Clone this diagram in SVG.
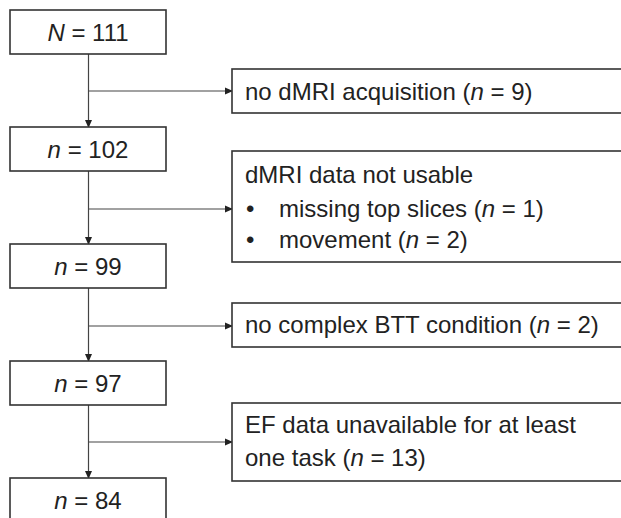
<svg xmlns="http://www.w3.org/2000/svg" width="621" height="518" viewBox="0 0 621 518">
<style>
.box{fill:#fff;stroke:#333;stroke-width:1.6}
.t{font-family:"Liberation Sans",Arial,sans-serif;font-size:24px;fill:#222}
.m{text-anchor:middle}
.c{fill:none;stroke:#444;stroke-width:1.2}
.i{font-style:italic}
</style>
<defs>
<marker id="ah" markerWidth="8" markerHeight="8" refX="7" refY="4" orient="auto" markerUnits="userSpaceOnUse">
<path d="M0,0.5 L8,4 L0,7.5 Z" fill="#222"/>
</marker>
</defs>
<rect width="621" height="518" fill="#fff"/>
<g id="connectors">
<line class="c" x1="88.5" y1="54" x2="88.5" y2="127" marker-end="url(#ah)"/>
<line class="c" x1="88.5" y1="91" x2="232" y2="91" marker-end="url(#ah)"/>
<line class="c" x1="88.5" y1="171" x2="88.5" y2="244" marker-end="url(#ah)"/>
<line class="c" x1="88.5" y1="209" x2="232" y2="209" marker-end="url(#ah)"/>
<line class="c" x1="88.5" y1="288" x2="88.5" y2="361" marker-end="url(#ah)"/>
<line class="c" x1="88.5" y1="326" x2="232" y2="326" marker-end="url(#ah)"/>
<line class="c" x1="88.5" y1="405" x2="88.5" y2="478" marker-end="url(#ah)"/>
<line class="c" x1="88.5" y1="442" x2="232" y2="442" marker-end="url(#ah)"/>
</g>
<g id="n111">
<rect class="box" x="10" y="10" width="156" height="44"/>
<text class="t m" x="88" y="41"><tspan class="i">N</tspan> = 111</text>
</g>
<g id="n102">
<rect class="box" x="10" y="127" width="156" height="44"/>
<text class="t m" x="88" y="158"><tspan class="i">n</tspan> = 102</text>
</g>
<g id="n99">
<rect class="box" x="10" y="244" width="156" height="44"/>
<text class="t m" x="88" y="275"><tspan class="i">n</tspan> = 99</text>
</g>
<g id="n97">
<rect class="box" x="10" y="361" width="156" height="44"/>
<text class="t m" x="88" y="392"><tspan class="i">n</tspan> = 97</text>
</g>
<g id="n84">
<rect class="box" x="10" y="478" width="156" height="60"/>
<text class="t m" x="88" y="509"><tspan class="i">n</tspan> = 84</text>
</g>
<g id="ex1">
<rect class="box" x="232" y="69" width="400" height="44"/>
<text class="t" x="245" y="100">no dMRI acquisition (<tspan class="i">n</tspan> = 9)</text>
</g>
<g id="ex2">
<rect class="box" x="232" y="151" width="400" height="111"/>
<text class="t" x="245" y="183">dMRI data not usable</text>
<text class="t" x="246" y="217">•</text>
<text class="t" x="279" y="217">missing top slices (<tspan class="i">n</tspan> = 1)</text>
<text class="t" x="246" y="248">•</text>
<text class="t" x="279" y="248">movement (<tspan class="i">n</tspan> = 2)</text>
</g>
<g id="ex3">
<rect class="box" x="232" y="303" width="400" height="44"/>
<text class="t" x="245" y="333">no complex BTT condition (<tspan class="i">n</tspan> = 2)</text>
</g>
<g id="ex4">
<rect class="box" x="232" y="403" width="400" height="78"/>
<text class="t" x="245" y="433">EF data unavailable for at least</text>
<text class="t" x="245" y="466">one task (<tspan class="i">n</tspan> = 13)</text>
</g>
</svg>
